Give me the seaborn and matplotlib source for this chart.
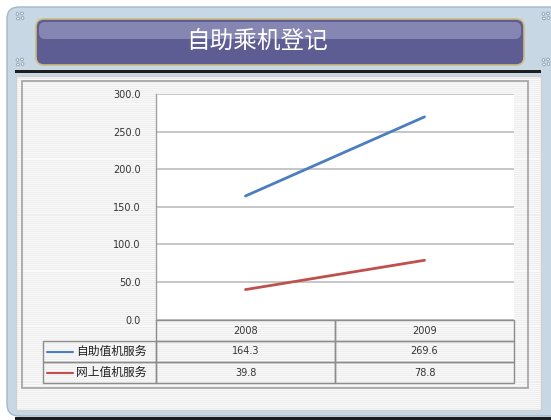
import numpy as np
import pandas as pd
import seaborn as sns
import matplotlib.pyplot as plt
from matplotlib.patches import FancyBboxPatch, Rectangle, Circle
from matplotlib.lines import Line2D

title = "自助乘机登记"
years = [2008, 2009]
series_names = ["自助值机服务", "网上值机服务"]
self_service = [164.3, 269.6]
online_service = [39.8, 78.8]
series_colors = ["#4a7ebf", "#c0504d"]
y_ticks = [0, 50, 100, 150, 200, 250, 300]

W, H = 551, 420


def fig_box(x0, y0, x1, y1):
    # pixel box (top-left origin) -> figure fraction rect
    return [x0 / W, 1 - y1 / H, (x1 - x0) / W, (y1 - y0) / H]


df = pd.DataFrame({
    "year": years * 2,
    "value": self_service + online_service,
    "series": [series_names[0]] * len(years) + [series_names[1]] * len(years),
})

sns.set_style("white")
plt.rcParams["font.family"] = ["DejaVu Sans", "Noto Sans CJK SC"]

fig = plt.figure(figsize=(W / 100, H / 100), dpi=100)
fig.patch.set_facecolor("white")

# decorative frame drawn in pixel coordinates
bg = fig.add_axes([0, 0, 1, 1], zorder=-1)
bg.set_xlim(0, W)
bg.set_ylim(H, 0)
bg.axis("off")

bg.add_patch(Rectangle((15, 416.5), 560, 3.5, fc="#1c1c1c", ec="none"))
bg.add_patch(FancyBboxPatch((7, 7), 570, 409, boxstyle="round,pad=0,rounding_size=12",
                            fc="#c7d8e4", ec="#a3b7c6", lw=1))
bg.add_patch(FancyBboxPatch((36, 19), 488, 46, boxstyle="round,pad=0,rounding_size=8",
                            fc="#5d5d93", ec="#cbbb7c", lw=1.2))
bg.add_patch(FancyBboxPatch((39, 22), 482, 17, boxstyle="round,pad=0,rounding_size=6",
                            fc="#8686b2", ec="none"))
bg.add_patch(Rectangle((15, 69.5), 526, 3, fc="#1e1e1e", ec="none"))

# little dotted ornaments in the frame corners
for cx, cy in [(20, 16), (20, 62), (546, 16), (546, 62)]:
    for dx, dy in [(-2.5, -2), (2, -2.5), (-2, 2.5), (2.5, 2)]:
        bg.add_patch(Circle((cx + dx, cy + dy), 1.4, fc="#f4f7f9", ec="#8c9ca8", lw=0.6))

stripes = np.tile(np.array([[0.93], [0.975]]), (170, 1))
bg.imshow(stripes, cmap="gray", vmin=0, vmax=1, extent=(16, 541, 410, 76),
          aspect="auto", interpolation="nearest", zorder=2)
bg.add_patch(Rectangle((16, 76), 525, 334, fill=False, ec="#d0d0d0", lw=1, zorder=3))
bg.add_patch(Rectangle((22, 81), 506, 307, fill=False, ec="#a8a8a8", lw=1.3, zorder=3))

bg.text(257, 41, title, fontsize=17, color="white", ha="center", va="center",
        family=["Noto Sans CJK SC"], zorder=5)

# line chart
ax = fig.add_axes(fig_box(156, 94, 514, 319.5))
ax.set_facecolor("white")
sns.lineplot(data=df, x="year", y="value", hue="series", hue_order=series_names,
             palette=series_colors, linewidth=2, legend=False, ax=ax)
ax.set_xlim(years[0] - 0.5, years[-1] + 0.5)
ax.set_ylim(y_ticks[0], y_ticks[-1])
ax.set_yticks(y_ticks)
ax.set_yticklabels([f"{t:.1f}" for t in y_ticks])
ax.set_xticks([])
ax.set_xlabel("")
ax.set_ylabel("")
ax.grid(axis="y", color="#c6c6c6", lw=1.4)
ax.set_axisbelow(True)
for side in ["top", "right", "bottom"]:
    ax.spines[side].set_visible(False)
ax.spines["left"].set_color("#a0a0a0")
ax.spines["left"].set_linewidth(1)
ax.tick_params(axis="y", length=0, pad=11, labelsize=7, labelcolor="#333333")

# data table under the chart
tax = fig.add_axes(fig_box(43, 320, 514, 383))
tax.axis("off")
rows = [[""] + [f"{v:.1f}" for v in vals] for vals in (self_service, online_service)]
tbl = tax.table(cellText=rows, colLabels=[""] + [str(y) for y in years],
                colWidths=[113 / 471, 179 / 471, 179 / 471], bbox=[0, 0, 1, 1], cellLoc="center")
tbl.auto_set_font_size(False)
tbl.set_fontsize(7)
for (r, c), cell in tbl.get_celld().items():
    cell.set_facecolor("none")
    cell.set_edgecolor("#8c8c8c")
    cell.set_linewidth(1)
    cell.get_text().set_color("#333333")
tbl[0, 0].visible_edges = "open"

for i, (name, color) in enumerate(zip(series_names, series_colors)):
    yc = 1 - (i + 1.5) / 3
    tax.add_line(Line2D([4 / 471, 30 / 471], [yc, yc], color=color, lw=1.5,
                        transform=tax.transAxes))
    tax.text(33 / 471, yc, name, fontsize=8.5, color="#222222", ha="left", va="center",
             family=["Noto Sans CJK SC"], transform=tax.transAxes)

fig.savefig("out.png", dpi=100)
plt.close(fig)
